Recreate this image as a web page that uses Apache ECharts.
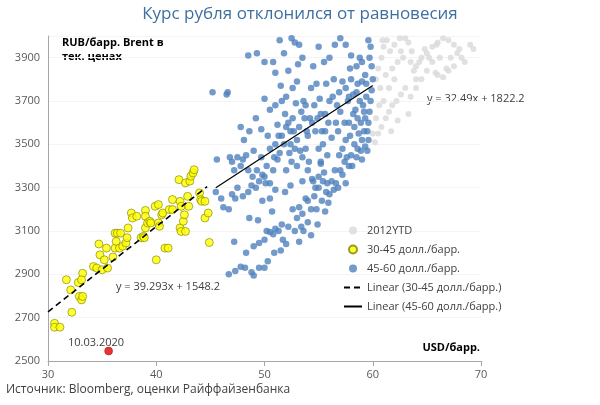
<!DOCTYPE html>
<html><head><meta charset="utf-8">
<script src="https://cdn.jsdelivr.net/npm/echarts@6/dist/echarts.min.js"></script>
<style>html,body{margin:0;padding:0;background:#fff}#c{width:600px;height:405px}</style>
</head><body><div id="c"></div>
<script>
var yellow=[[30.6,2674],[30.6,2656],[31.1,2656],[31.7,2875],[32.1,2828],[32.2,2725],[32.8,2862],[32.9,2798],[33.1,2782],[33.2,2798],[33.2,2905],[33.1,2875],[34.2,2936],[34.5,2929],[34.7,3040],[34.8,2990],[35.0,2921],[35.2,2967],[35.4,3021],[35.5,2929],[36.0,2980],[36.2,3021],[36.2,3090],[36.3,3052],[36.4,3090],[36.6,3021],[36.7,3090],[36.9,3030],[37.2,3045],[37.3,3069],[37.4,3114],[37.7,3183],[37.8,3160],[38.2,3168],[38.6,3069],[38.8,3075],[38.9,3069],[39.0,3195],[39.0,3168],[39.0,3114],[39.2,3137],[39.4,3145],[39.5,3137],[39.9,3214],[40.0,2967],[40.2,3222],[40.2,3137],[40.3,3122],[40.5,3175],[40.6,3183],[40.8,3021],[41.1,3021],[41.2,3199],[41.5,3245],[41.5,3199],[42.1,3337],[42.2,3237],[42.3,3214],[42.2,3114],[42.3,3098],[42.5,3145],[42.6,3175],[42.7,3098],[42.7,3322],[42.9,3260],[43.0,3214],[43.1,3330],[43.2,3353],[43.4,3368],[43.5,3383],[44.0,3276],[44.1,3245],[44.2,3237],[44.5,3237],[44.5,3160],[44.8,3183],[44.9,3047]];
var blue=[[46.7,2900],[47.3,2915],[47.8,2935],[48.2,2930],[48.8,2910],[49,2895],[49.5,2930],[50,2930],[50.3,2960],[49,3030],[49.5,3045],[50,3060],[50.2,3100],[50.5,3095],[50.8,3085],[51,3110],[51.3,3100],[51.6,3130],[51.7,3060],[51.5,3010],[52,3040],[52.2,3120],[52.8,3100],[53,3160],[53.2,3210],[53.5,3180],[53.4,3120],[53.8,3250],[54,3240],[54,3140],[54.3,3200],[54.6,3260],[54.8,3200],[55,3300],[55.3,3240],[55.6,3190],[53.6,3100],[54.3,3080],[53.2,3050],
[54,3380],[54.4,3340],[54.7,3300],[55,3350],[55.2,3420],[55.5,3370],[55.8,3320],[56,3270],[56.4,3290],[56.8,3300],[57,3380],[57.4,3420],[57.8,3400],[58,3450],[58.3,3500],[58.6,3480],[59,3520],[59.3,3490],[59.5,3560],[59.6,3600],[59.7,3650],[59.8,3700],[59.9,3750],[60,3800],[59.9,3860],[59.8,3950],[59.6,3980],
[45.5,3280],[46,3250],[46.2,3210],[46.7,3200],[47,3270],[47.3,3250],[47.5,3300],[47,3420],[47.5,3440],[47.8,3400],[48,3430],[48.3,3450],[48.5,3380],[48.8,3310],[49.2,3300],[49.5,3330],[49.8,3360],[50,3350],[50.2,3400],[50.5,3320],[50.8,3380],[51,3290],[51.2,3430],[51.4,3460],[51.6,3540],[51.8,3500],[52,3580],[52.2,3600],[52.4,3560],[52.6,3620],[52.8,3480],[53,3520],[53.2,3580],[53.4,3650],[53.6,3700],[53.8,3680],[54,3540],[54.2,3620],[54.4,3600],[54.7,3560],[55,3480],[55.2,3640],[55.4,3500],[55.6,3560],[55.9,3600],[56,3700],[56.3,3720],[56.6,3600],[56.8,3560],[57,3650],[57.2,3790],[57.5,3760],[57.7,3700],[58,3800],[58.2,3730],[58.5,3740],[58.8,3700],[59,3790],[59.2,3650],[58.6,3620],[58.3,3580],[57.9,3540],[57.5,3520],[57.2,3480],[56.9,3450],
[48.5,3910],[49.3,3920],[50,3880],[50.8,3880],[51,3830],[51.4,3980],[51.8,3920],[52.2,3840],[52.5,3990],[52.8,3970],[53.2,3960],[53.5,3900],[53,3790],[52.6,3760],[52,3720],[51.6,3700],[51,3680],[50.5,3660],[50,3710],[49.2,3620],[48.6,3560],[49.7,3570],[50.3,3540],[51.2,3590],[54.5,3860],[55,3950],[55.5,3880],[56,3900],[56.5,3960],[57,3990],[57.5,3960],[58,3910],[58.5,3860],[59,3880],[55.7,3780],[56.4,3800],[54.3,3760],[54.8,3780],
[45.2,3740],[46.5,3730],[46.6,3740],[45.6,3430],[47.8,3580],[48.1,3520],
[52,3380],[52.5,3420],[53,3400],[53.5,3440],[50.5,3480],[51,3500],[49.7,3440],[49,3470],[48.5,3280],[48,3260],[49.8,3240],[50.5,3250],[52.4,3310],[53.5,3330],[56.5,3380],[57.5,3320],[58.5,3440],[57.8,3600],[59,3430],[59.5,3470],[58.8,3900],[59.3,3820],[58.2,3640],[56.2,3530],[55.2,3410],[53.8,3480],[55.3,3560],
[58.9,3600],[59.2,3560],[59.4,3720],[59.1,3680],[58.4,3660],[57.6,3440],[56.2,3330],[55.9,3230],[54.9,3130],[52.6,3200],[51.9,3280],[50.7,3190],[49.4,3150],[48.6,3160],[50.9,3000],[48.3,3000],[47.2,3050],[52.4,3500],[53.9,3560],[55.8,3450],[56.7,3680],[57.9,3850],[59.7,3900],[55.1,3710],[54.6,3680],[52.9,3690],[51.5,3770],[53.1,3870],
[46.8,3440],[47.2,3380],[48.9,3350],[49.3,3380],[50.1,3320],[50.9,3440],[52.3,3460],[53.3,3470],[54.1,3420],[54.5,3330],[55.4,3330],[55.7,3280],[56.6,3320],[57.2,3360],[58.1,3400],[58.7,3550],[59.3,3620],[59.6,3520],[58.9,3470],[57.4,3600],[56.9,3740],[57.8,3720],[58.6,3780],[59.4,3780],[55.6,3640],[54.9,3620],[53.7,3620],[52.7,3560],[51.9,3640],[51.3,3540]];
var gray=[[60.2,3510],[60.5,3550],[60.8,3580],[61.2,3620],[61.5,3650],[61.8,3680],[62.2,3700],[62.6,3730],[63,3760],[60.3,3800],[60.5,3850],[60.8,3900],[61,3950],[61.3,3980],[61.6,3930],[62,3960],[62.5,3990],[63,3990],[63.3,3970],[62.8,3900],[62.3,3880],[61.8,3850],[61.2,3820],[60.7,3760],[61.5,3760],[62,3800],[63.5,3880],[64,3860],[64.5,3900],[65,3920],[65.5,3950],[66,3970],[66.5,3990],[67,3980],[67.5,3960],[68,3940],[69,3960],[69.3,3940],[68.5,3880],[67.5,3860],[67,3840],[66.5,3810],[66,3820],[65.5,3880],[65,3840],[64.5,3800],[64,3760],[63.5,3720],[64.3,3880],[65.2,3900],[66.2,3900],[67.2,3900],[68.2,3900],[63.8,3840],[60.6,3680],[60.3,3620],[60,3550],[61,3700],[61.7,3560],[62.3,3610],[63.3,3640],[64,3800],[65.8,3830],[66.8,3850],[67.8,3920],[60.9,3980],[62.6,3930],[63.6,3930],[64.8,3940],[65.9,3960]];
var redPoint=[[35.6,2546]];
var trend3045=[[30,2727],[44.7,3305]];
var trend4560=[[45.5,3300],[60,3772]];
var yTicks=[2500,2700,2900,3100,3300,3500,3700,3900];
var xTicks=[30,40,50,60,70];
var names=['2012YTD','30-45 долл./барр.','45-60 долл./барр.','Linear (30-45 долл./барр.)','Linear (45-60 долл./барр.)'];
var F='"Open Sans", sans-serif';
var ch=echarts.init(document.getElementById('c'));
ch.setOption({
 animation:false,
 title:{text:'Курс рубля отклонился от равновесия',left:'center',top:1,textStyle:{fontFamily:F,fontSize:17,fontWeight:'normal',color:'#3f6f9f'}},
 grid:{left:48,right:119,top:36,bottom:44},
 xAxis:{type:'value',min:30,max:70,interval:10,axisLine:{lineStyle:{color:'#a6a6a6'}},axisTick:{show:true,lineStyle:{color:'#a6a6a6'}},splitLine:{show:false},axisLabel:{color:'#595959',fontFamily:F,fontSize:11}},
 yAxis:{type:'value',min:2500,max:4000,interval:200,axisLine:{show:true,lineStyle:{color:'#a6a6a6'}},axisTick:{show:false},splitLine:{show:true,lineStyle:{color:'#f4f4f4'}},axisLabel:{color:'#595959',fontFamily:F,fontSize:11,formatter:function(v){return yTicks.indexOf(v)>=0?String(v):'';}}},
 legend:{orient:'vertical',left:338,top:220,itemGap:8,itemWidth:18,itemHeight:8,textStyle:{fontFamily:F,fontSize:11,color:'#404040'},data:[
  {name:names[0],icon:'circle'},{name:names[1],icon:'circle'},{name:names[2],icon:'circle'},{name:names[3],itemStyle:{opacity:0}},{name:names[4],itemStyle:{opacity:0}}]},
 graphic:[
  {type:'text',left:62,top:36,style:{text:'RUB/барр. Brent в\nтек. ценах',font:'bold 11px "Open Sans", sans-serif',fill:'#000',lineHeight:14}},
  {type:'text',right:120,top:342,style:{text:'USD/барр.',font:'bold 11px "Open Sans", sans-serif',fill:'#000'}},
  {type:'text',left:427,top:93,style:{text:'y = 32.49x + 1822.2',font:'11px "Open Sans", sans-serif',fill:'#404040'}},
  {type:'text',left:116,top:281,style:{text:'y = 39.293x + 1548.2',font:'11px "Open Sans", sans-serif',fill:'#404040'}},
  {type:'text',left:68,top:337,style:{text:'10.03.2020',font:'11px "Open Sans", sans-serif',fill:'#404040'}},
  {type:'text',left:6,top:384,style:{text:'Источник: Bloomberg, оценки Райффайзенбанка',font:'12px "Open Sans", sans-serif',fill:'#404040'}}
 ],
 series:[
  {name:names[0],type:'scatter',data:gray,symbolSize:6,itemStyle:{color:'#d9d9d9'}},
  {name:names[2],type:'scatter',data:blue,symbolSize:6.5,itemStyle:{color:'#4f81bd'}},
  {name:names[1],type:'scatter',data:yellow,symbolSize:8,itemStyle:{color:'#ffff00',borderColor:'#7f7f00',borderWidth:0.8}},
  {name:'red',type:'scatter',data:redPoint,symbolSize:8,itemStyle:{color:'#e00000',borderColor:'#900',borderWidth:0.5}},
  {name:names[3],type:'line',data:trend3045,symbol:'none',lineStyle:{color:'#000',width:1.6,type:[6,4]},itemStyle:{color:'#000'}},
  {name:names[4],type:'line',data:trend4560,symbol:'none',lineStyle:{color:'#000',width:1.2},itemStyle:{color:'#000'}}
 ]
});
</script></body></html>
